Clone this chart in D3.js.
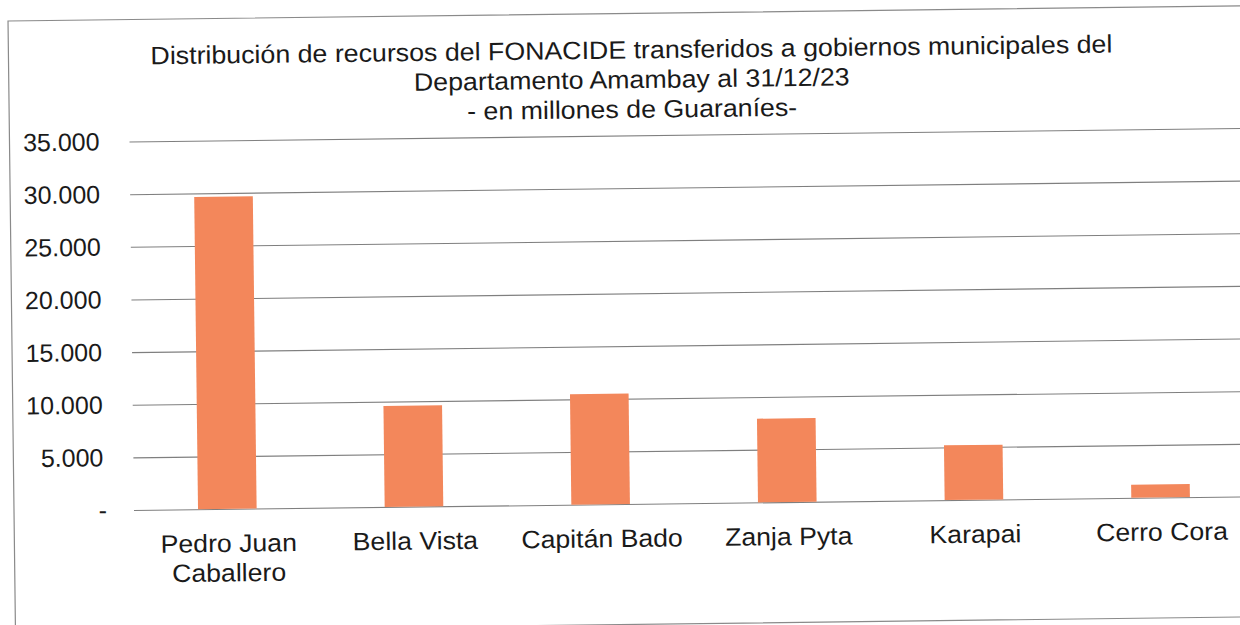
<!DOCTYPE html>
<html>
<head>
<meta charset="utf-8">
<script src="https://cdn.jsdelivr.net/npm/d3@7"></script>
<style>
  body { margin: 0; background: #fff; }
  svg { display: block; font-family: "Liberation Sans", Arial, sans-serif; }
</style>
</head>
<body>
<div id="chart"></div>
<script>
(function(){
    var width = 1240,
        height = 625;

    // data
    var municipios = ["Pedro Juan Caballero", "Bella Vista", "Capitán Bado", "Zanja Pyta", "Karapai", "Cerro Cora"];
    var labelLines = [["Pedro Juan", "Caballero"], ["Bella Vista"], ["Capitán Bado"], ["Zanja Pyta"], ["Karapai"], ["Cerro Cora"]];
    var montos = [29650, 9600, 10500, 7950, 5200, 1250];
    var yTicks = [0, 5000, 10000, 15000, 20000, 25000, 30000, 35000];
    var titleLines = [
        "Distribución de recursos del FONACIDE transferidos a gobiernos municipales del",
        "Departamento Amambay al 31/12/23",
        "- en millones de Guaraníes-"
    ];

    var svg = d3.select("#chart")
        .append("svg")
        .attr("width", width)
        .attr("height", height)

    // the scanned page is slightly tilted
    var page = svg.append("g")
        .attr("transform", "rotate(-0.7, 135, 510)")

    page.append("rect")
        .attr("x", 14)
        .attr("y", 19.5)
        .attr("width", 1260)
        .attr("height", 611)
        .attr("fill", "none")
        .attr("stroke", "#8a8a8a")
        .attr("stroke-width", 1.2)

    var x = d3.scaleBand()
        .domain(municipios)
        .range([134, 1254])
        .paddingInner(0.686)
        .paddingOuter(0.343)

    var y = d3.scaleLinear()
        .domain([0, 35000])
        .range([510, 141.5])

    var locale = d3.formatLocale({decimal: ",", thousands: ".", grouping: [3], currency: ["", ""]});
    var fmt = locale.format(",.0f");

    // the scan is a bit wider than the font
    function stretch(sel, k) {
        sel.each(function(){
            var w = this.getComputedTextLength();
            d3.select(this)
                .attr("textLength", w * k)
                .attr("lengthAdjust", "spacingAndGlyphs");
        });
    }

    // gridlines
    var grid = page.append("g")
        .attr("transform", "translate(134,0)")
        .call(d3.axisLeft(y).tickValues(yTicks).tickSize(-1130).tickFormat(""))
    grid.select(".domain").remove();
    grid.selectAll(".tick line")
        .attr("stroke", "#7f7f7f")
        .attr("stroke-width", 1.1)

    // y labels
    var yAxis = page.append("g")
        .attr("transform", "translate(104,0)")
        .call(d3.axisLeft(y).tickValues(yTicks).tickSize(0).tickPadding(0)
            .tickFormat(function(d){ return d === 0 ? "-" : fmt(d); }))
    yAxis.select(".domain").remove();
    yAxis.selectAll(".tick text")
        .attr("font-size", 25)
        .attr("font-family", "Liberation Sans, Arial, sans-serif")
        .attr("fill", "#1a1a1a")
        .attr("dx", function(d){ return d === 0 ? 3 : 0; })

    // bars
    page.selectAll(".bar")
        .data(montos)
        .enter().append("rect")
        .attr("class", "bar")
        .attr("x", function(d, i){ return x(municipios[i]); })
        .attr("width", x.bandwidth())
        .attr("y", function(d){ return y(d); })
        .attr("height", function(d){ return y(0) - y(d); })
        .attr("fill", "#f3875b")

    // category labels
    var cat = page.selectAll(".cat")
        .data(municipios)
        .enter().append("text")
        .attr("class", "cat")
        .attr("text-anchor", "middle")
        .attr("font-size", 25)
        .attr("fill", "#1a1a1a")
        .attr("transform", function(d){ return "translate(" + (x(d) + x.bandwidth() / 2 + 1) + ",553)"; })

    cat.selectAll("tspan")
        .data(function(d, i){ return labelLines[i]; })
        .enter().append("tspan")
        .attr("x", 0)
        .attr("y", function(d, i){ return i * 29.5; })
        .text(function(d){ return d; })
        .call(stretch, 1.065)

    // title
    page.append("text")
        .attr("text-anchor", "middle")
        .attr("font-size", 25)
        .attr("fill", "#1a1a1a")
        .selectAll("tspan")
        .data(titleLines)
        .enter().append("tspan")
        .attr("x", 637)
        .attr("y", function(d, i){ return 64.5 + i * 29.7; })
        .text(function(d){ return d; })
        .call(stretch, 1.07)
})();
</script>
</body>
</html>
